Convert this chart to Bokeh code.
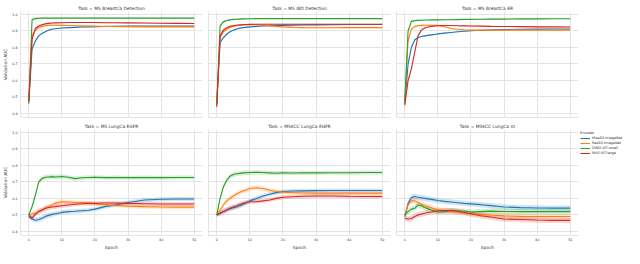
from bokeh.plotting import figure
from bokeh.layouts import row, column
from bokeh.models import Legend, LegendItem, PrintfTickFormatter, FixedTicker
from bokeh.embed import file_html
from bokeh.resources import INLINE

# ---------------- data ----------------
EPOCHS = [0, 1, 2, 3, 4, 5, 6, 7, 8, 10, 12, 14, 16, 18, 20, 23, 26, 30, 35, 40, 45, 50]
ENCODERS = ["tRes50-ImageNet", "Res50-ImageNet", "DINO-ViT-small", "MAE-ViT-large"]
COLORS = ["#1f77b4", "#ff7f0e", "#2ca02c", "#d62728"]
TASKS = ["MS BreastCa Detection", "MS IBD Detection", "MS BreastCa ER",
         "MS LungCa EGFR", "MSKCC LungCa EGFR", "MSKCC LungCa IO"]
X_TICKS = [0, 10, 20, 30, 40, 50]
Y_TICKS = [0.4, 0.5, 0.6, 0.7, 0.8, 0.9, 1.0]

# MS BreastCa Detection
MS_BCD_TRES50 = [0.46, 0.79, 0.84, 0.87, 0.885, 0.895, 0.905, 0.91, 0.913, 0.918, 0.92, 0.922, 0.924, 0.925, 0.926, 0.927, 0.928, 0.929, 0.93, 0.93, 0.93, 0.93]
MS_BCD_RES50 = [0.47, 0.87, 0.905, 0.92, 0.928, 0.932, 0.934, 0.935, 0.935, 0.934, 0.933, 0.932, 0.931, 0.93, 0.929, 0.928, 0.927, 0.926, 0.925, 0.925, 0.925, 0.925]
MS_BCD_DINO = [0.48, 0.97, 0.975, 0.977, 0.978, 0.978, 0.978, 0.978, 0.978, 0.978, 0.978, 0.978, 0.978, 0.978, 0.978, 0.978, 0.978, 0.978, 0.978, 0.978, 0.978, 0.978]
MS_BCD_MAE = [0.47, 0.85, 0.915, 0.93, 0.938, 0.943, 0.946, 0.948, 0.949, 0.95, 0.951, 0.951, 0.951, 0.951, 0.951, 0.95, 0.95, 0.949, 0.948, 0.947, 0.946, 0.945]

# MS IBD Detection
MS_IBD_TRES50 = [0.47, 0.83, 0.86, 0.88, 0.895, 0.905, 0.912, 0.917, 0.92, 0.925, 0.928, 0.93, 0.932, 0.933, 0.934, 0.935, 0.936, 0.937, 0.938, 0.939, 0.939, 0.939]
MS_IBD_RES50 = [0.46, 0.86, 0.895, 0.912, 0.922, 0.928, 0.932, 0.935, 0.937, 0.939, 0.938, 0.935, 0.931, 0.928, 0.925, 0.922, 0.92, 0.919, 0.919, 0.92, 0.92, 0.92]
MS_IBD_DINO = [0.45, 0.93, 0.955, 0.963, 0.967, 0.97, 0.971, 0.972, 0.973, 0.974, 0.975, 0.975, 0.975, 0.975, 0.975, 0.975, 0.975, 0.975, 0.975, 0.975, 0.975, 0.975]
MS_IBD_MAE = [0.44, 0.87, 0.905, 0.92, 0.928, 0.932, 0.935, 0.937, 0.938, 0.94, 0.941, 0.941, 0.941, 0.941, 0.941, 0.941, 0.941, 0.941, 0.941, 0.941, 0.941, 0.941]

# MS BreastCa ER
MS_BER_TRES50 = [0.46, 0.7, 0.8, 0.845, 0.86, 0.866, 0.87, 0.873, 0.876, 0.882, 0.887, 0.891, 0.895, 0.898, 0.901, 0.904, 0.906, 0.908, 0.91, 0.911, 0.912, 0.912]
MS_BER_RES50 = [0.47, 0.84, 0.91, 0.928, 0.932, 0.934, 0.935, 0.935, 0.935, 0.934, 0.925, 0.915, 0.91, 0.907, 0.905, 0.905, 0.905, 0.905, 0.905, 0.905, 0.905, 0.905]
MS_BER_DINO = [0.48, 0.9, 0.958, 0.962, 0.964, 0.965, 0.966, 0.966, 0.967, 0.967, 0.968, 0.968, 0.969, 0.97, 0.97, 0.971, 0.972, 0.972, 0.973, 0.973, 0.974, 0.974]
MS_BER_MAE = [0.45, 0.6, 0.67, 0.77, 0.87, 0.905, 0.918, 0.924, 0.928, 0.932, 0.933, 0.933, 0.932, 0.931, 0.93, 0.929, 0.928, 0.927, 0.926, 0.925, 0.925, 0.924]

# MS LungCa EGFR
MS_LEG_TRES50 = [0.49, 0.475, 0.468, 0.472, 0.48, 0.49, 0.497, 0.503, 0.507, 0.515, 0.52, 0.522, 0.525, 0.528, 0.535, 0.55, 0.56, 0.575, 0.59, 0.595, 0.596, 0.596]
MS_LEG_RES50 = [0.5, 0.505, 0.51, 0.52, 0.53, 0.54, 0.55, 0.56, 0.57, 0.58, 0.578, 0.575, 0.575, 0.572, 0.568, 0.562, 0.558, 0.553, 0.55, 0.548, 0.547, 0.547]
MS_LEG_DINO = [0.5, 0.55, 0.62, 0.7, 0.72, 0.728, 0.73, 0.732, 0.73, 0.733, 0.728, 0.72, 0.725, 0.727, 0.728, 0.726, 0.727, 0.726, 0.727, 0.726, 0.727, 0.727]
MS_LEG_MAE = [0.5, 0.48, 0.505, 0.52, 0.53, 0.54, 0.545, 0.548, 0.55, 0.555, 0.56, 0.565, 0.568, 0.57, 0.57, 0.572, 0.572, 0.57, 0.568, 0.566, 0.566, 0.566]

# MSKCC LungCa EGFR
MSK_LEG_TRES50 = [0.5, 0.51, 0.52, 0.53, 0.538, 0.543, 0.548, 0.555, 0.565, 0.585, 0.6, 0.615, 0.625, 0.635, 0.642, 0.645, 0.646, 0.647, 0.648, 0.648, 0.648, 0.648]
MSK_LEG_RES50 = [0.5, 0.53, 0.56, 0.585, 0.6, 0.615, 0.627, 0.637, 0.645, 0.66, 0.665, 0.66, 0.65, 0.642, 0.638, 0.635, 0.633, 0.632, 0.632, 0.632, 0.632, 0.632]
MSK_LEG_DINO = [0.5, 0.6, 0.67, 0.71, 0.735, 0.745, 0.75, 0.752, 0.755, 0.757, 0.758, 0.757, 0.755, 0.753, 0.755, 0.754, 0.756, 0.755, 0.756, 0.756, 0.757, 0.757]
MSK_LEG_MAE = [0.5, 0.51, 0.52, 0.53, 0.54, 0.548, 0.555, 0.565, 0.57, 0.58, 0.58, 0.585, 0.59, 0.6, 0.607, 0.61, 0.613, 0.615, 0.615, 0.613, 0.612, 0.612]

# MSKCC LungCa IO
MSK_LIO_TRES50 = [0.49, 0.57, 0.605, 0.612, 0.607, 0.603, 0.6, 0.597, 0.594, 0.587, 0.582, 0.578, 0.574, 0.57, 0.567, 0.562, 0.556, 0.548, 0.544, 0.542, 0.541, 0.541]
MSK_LIO_RES50 = [0.5, 0.56, 0.585, 0.585, 0.575, 0.565, 0.557, 0.55, 0.543, 0.53, 0.525, 0.52, 0.516, 0.512, 0.507, 0.503, 0.499, 0.494, 0.491, 0.49, 0.49, 0.49]
MSK_LIO_DINO = [0.5, 0.52, 0.535, 0.54, 0.56, 0.555, 0.545, 0.538, 0.53, 0.518, 0.52, 0.528, 0.525, 0.522, 0.517, 0.52, 0.523, 0.521, 0.52, 0.52, 0.52, 0.52]
MSK_LIO_MAE = [0.48, 0.475, 0.478, 0.49, 0.5, 0.505, 0.51, 0.515, 0.518, 0.525, 0.527, 0.526, 0.522, 0.515, 0.507, 0.495, 0.487, 0.475, 0.472, 0.469, 0.467, 0.467]

# confidence band half-widths
TOP_CI = [0.03, 0.012, 0.008, 0.006, 0.005, 0.004, 0.004, 0.003, 0.003, 0.003, 0.003, 0.003, 0.003, 0.003, 0.003, 0.003, 0.003, 0.003, 0.003, 0.003, 0.003, 0.003]
BOTTOM_CI = [0.012, 0.014, 0.015, 0.015, 0.015, 0.015, 0.014, 0.014, 0.014, 0.013, 0.013, 0.013, 0.013, 0.013, 0.012, 0.012, 0.012, 0.012, 0.012, 0.012, 0.012, 0.012]
IO_CI = [0.015, 0.018, 0.018, 0.018, 0.017, 0.017, 0.017, 0.017, 0.016, 0.016, 0.016, 0.016, 0.016, 0.016, 0.016, 0.016, 0.016, 0.016, 0.016, 0.016, 0.016, 0.016]

PANEL_SERIES = [
    [MS_BCD_TRES50, MS_BCD_RES50, MS_BCD_DINO, MS_BCD_MAE],
    [MS_IBD_TRES50, MS_IBD_RES50, MS_IBD_DINO, MS_IBD_MAE],
    [MS_BER_TRES50, MS_BER_RES50, MS_BER_DINO, MS_BER_MAE],
    [MS_LEG_TRES50, MS_LEG_RES50, MS_LEG_DINO, MS_LEG_MAE],
    [MSK_LEG_TRES50, MSK_LEG_RES50, MSK_LEG_DINO, MSK_LEG_MAE],
    [MSK_LIO_TRES50, MSK_LIO_RES50, MSK_LIO_DINO, MSK_LIO_MAE],
]
PANEL_CI = [TOP_CI, TOP_CI, TOP_CI, BOTTOM_CI, BOTTOM_CI, IO_CI]

# ---------------- style ----------------
FONT = "DejaVu Sans"
TXT = "#333333"
GRID = "#e4e4e4"
FW, FH = 182, 106


def make_panel(i):
    r, c = divmod(i, 3)
    p = figure(frame_width=FW, frame_height=FH,
               x_range=(-2.5, 52.5), y_range=(0.375, 1.018),
               output_backend="svg", toolbar_location=None,
               min_border_left=14 if c == 0 else 3,
               min_border_right=3,
               min_border_top=11 if r == 0 else 10,
               min_border_bottom=2 if r == 0 else 13,
               background_fill_color="white", border_fill_color="white")
    p.outline_line_color = None
    p.title.text = "Task = " + TASKS[i]
    p.title.align = "center"
    p.title.text_font = FONT
    p.title.text_font_size = "4.4px"
    p.title.text_font_style = "normal"
    p.title.text_color = TXT
    p.title.standoff = 1
    p.title.offset = 0

    for ax in (p.xaxis, p.yaxis):
        ax.axis_line_color = GRID
        ax.major_tick_out = 0
        ax.major_tick_in = 0
        ax.minor_tick_out = 0
        ax.minor_tick_in = 0
        ax.major_label_text_font = FONT
        ax.major_label_text_color = TXT
        ax.axis_label_text_font = FONT
        ax.axis_label_text_font_style = "normal"
        ax.axis_label_text_color = TXT

    # grids keep their own tickers so that label-less axes can have no ticks
    p.xgrid.ticker = FixedTicker(ticks=X_TICKS)
    p.ygrid.ticker = FixedTicker(ticks=Y_TICKS)
    p.xgrid.grid_line_color = GRID
    p.ygrid.grid_line_color = GRID
    p.xgrid.grid_line_width = 1
    p.ygrid.grid_line_width = 1

    if c == 0:
        p.yaxis.ticker = FixedTicker(ticks=Y_TICKS)
        p.yaxis.formatter = PrintfTickFormatter(format="%.1f")
        p.yaxis.axis_label = "Validation AUC"
        p.yaxis.axis_label_text_font_size = "4.3px"
        p.yaxis.axis_label_standoff = 1
        p.yaxis.major_label_text_font_size = "3.3px"
        p.yaxis.major_label_standoff = 3
    else:
        p.yaxis.ticker = FixedTicker(ticks=[])
        p.yaxis.major_label_standoff = 0
    if r == 1:
        p.xaxis.ticker = FixedTicker(ticks=X_TICKS)
        p.xaxis.axis_label = "Epoch"
        p.xaxis.axis_label_text_font_size = "4.3px"
        p.xaxis.axis_label_standoff = 1
        p.xaxis.major_label_text_font_size = "3.3px"
        p.xaxis.major_label_standoff = 2
    else:
        p.xaxis.ticker = FixedTicker(ticks=[])
        p.xaxis.major_label_standoff = 0

    ci = PANEL_CI[i]
    renderers = []
    for s, color in zip(PANEL_SERIES[i], COLORS):
        lo = [m - d for m, d in zip(s, ci)]
        hi = [m + d for m, d in zip(s, ci)]
        p.varea(x=EPOCHS, y1=lo, y2=hi, fill_color=color, fill_alpha=0.2)
    for s, color in zip(PANEL_SERIES[i], COLORS):
        renderers.append(p.line(EPOCHS, s, line_color=color, line_width=1.1))
    return p, renderers


panels = []
last_renderers = None
for i in range(6):
    p, rs = make_panel(i)
    panels.append(p)
    last_renderers = rs

legend = Legend(items=[LegendItem(label=n, renderers=[r]) for n, r in zip(ENCODERS, last_renderers)],
                title="Encoder", location="top_left")
legend.title_text_font = FONT
legend.title_text_font_size = "3.5px"
legend.title_text_font_style = "normal"
legend.title_text_color = TXT
legend.title_standoff = 1
legend.label_text_font = FONT
legend.label_text_font_size = "3.5px"
legend.label_text_color = TXT
legend.label_standoff = 2
legend.label_height = 4
legend.label_width = 10
legend.glyph_width = 10
legend.glyph_height = 4
legend.spacing = 1
legend.padding = 1
legend.margin = 2
legend.border_line_color = None
legend.background_fill_alpha = 0
panels[5].add_layout(legend, "right")

layout = column(row(*panels[:3]), row(*panels[3:]))

with open("out.html", "w") as f:
    f.write(file_html(layout, INLINE))
